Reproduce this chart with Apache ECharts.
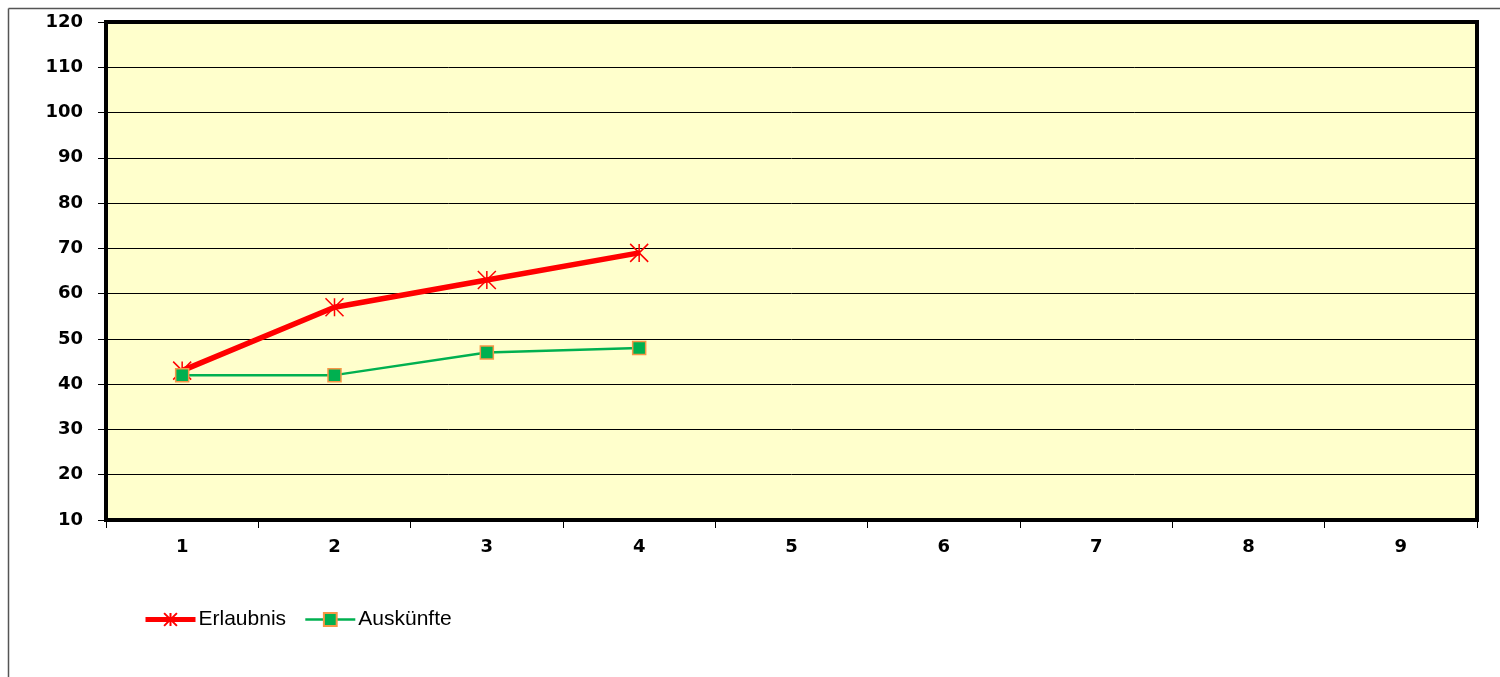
<!DOCTYPE html>
<html><head><meta charset="utf-8">
<script src="https://cdn.jsdelivr.net/npm/echarts@6/dist/echarts.min.js"></script>
<style>html,body{margin:0;padding:0;background:#fff}#c{width:1500px;height:677px}</style>
</head><body><div id="c"></div>
<script>
const categories = ['1','2','3','4','5','6','7','8','9'];
const erlaubnis = [43, 57, 63, 69];
const auskuenfte = [42, 42, 47, 48];
const seriesNames = ['Erlaubnis', 'Auskünfte'];

const chart = echarts.init(document.getElementById('c'));
const asterisk = 'path://M0,0L20,20M20,0L0,20M10,0L10,20';
chart.setOption({
  animation: false,
  backgroundColor: '#fff',
  graphic: [
    {type:'line', shape:{x1:8.5,y1:8.5,x2:1500,y2:8.5}, style:{stroke:'#555',lineWidth:1.5}},
    {type:'line', shape:{x1:8.5,y1:8.5,x2:8.5,y2:677}, style:{stroke:'#555',lineWidth:1.5}}
  ],
  grid: {left:106, right:23, top:22, bottom:157, show:true, backgroundColor:'#FFFFCC', borderColor:'#000', borderWidth:4},
  legend: {
    left: 143, top: 609, padding: 0, itemWidth: 50, itemHeight: 16, itemGap: 18,
    textStyle: {fontFamily:'Liberation Sans, Arial', fontSize:21, color:'#000', padding:[0,0,0,-2]},
    data: [
      {name: seriesNames[0], lineStyle:{width:5, color:'#FF0000'}},
      {name: seriesNames[1], lineStyle:{width:2.5, color:'#00B050'}}
    ]
  },
  xAxis: {
    type:'category', data:categories, boundaryGap:true,
    axisLine:{show:true, lineStyle:{color:'#000', width:4}},
    axisTick:{show:true, length:8, lineStyle:{color:'#000', width:1}},
    axisLabel:{margin:18, fontFamily:'DejaVu Sans', fontWeight:'bold', fontSize:18, color:'#000'},
    splitLine:{show:false}
  },
  yAxis: {
    type:'value', min:10, max:120, interval:10,
    axisLine:{show:true, lineStyle:{color:'#000', width:4}},
    axisTick:{show:true, length:8, lineStyle:{color:'#000', width:1}},
    axisLabel:{margin:23, fontFamily:'DejaVu Sans', fontWeight:'bold', fontSize:18, color:'#000'},
    splitLine:{show:true, lineStyle:{color:'#000', width:1}}
  },
  series: [
    {
      name: seriesNames[0], type:'line', data: erlaubnis,
      symbol: asterisk, symbolSize: 18,
      lineStyle:{color:'#FF0000', width:5.5},
      itemStyle:{color:'rgba(0,0,0,0)', borderColor:'#FF0000', borderWidth:1.5},
      z: 2
    },
    {
      name: seriesNames[1], type:'line', data: auskuenfte,
      symbol:'rect', symbolSize: 13,
      lineStyle:{color:'#00B050', width:2.5},
      itemStyle:{color:'#00B050', borderColor:'#F79646', borderWidth:1.5},
      z: 3
    }
  ]
});
</script></body></html>
